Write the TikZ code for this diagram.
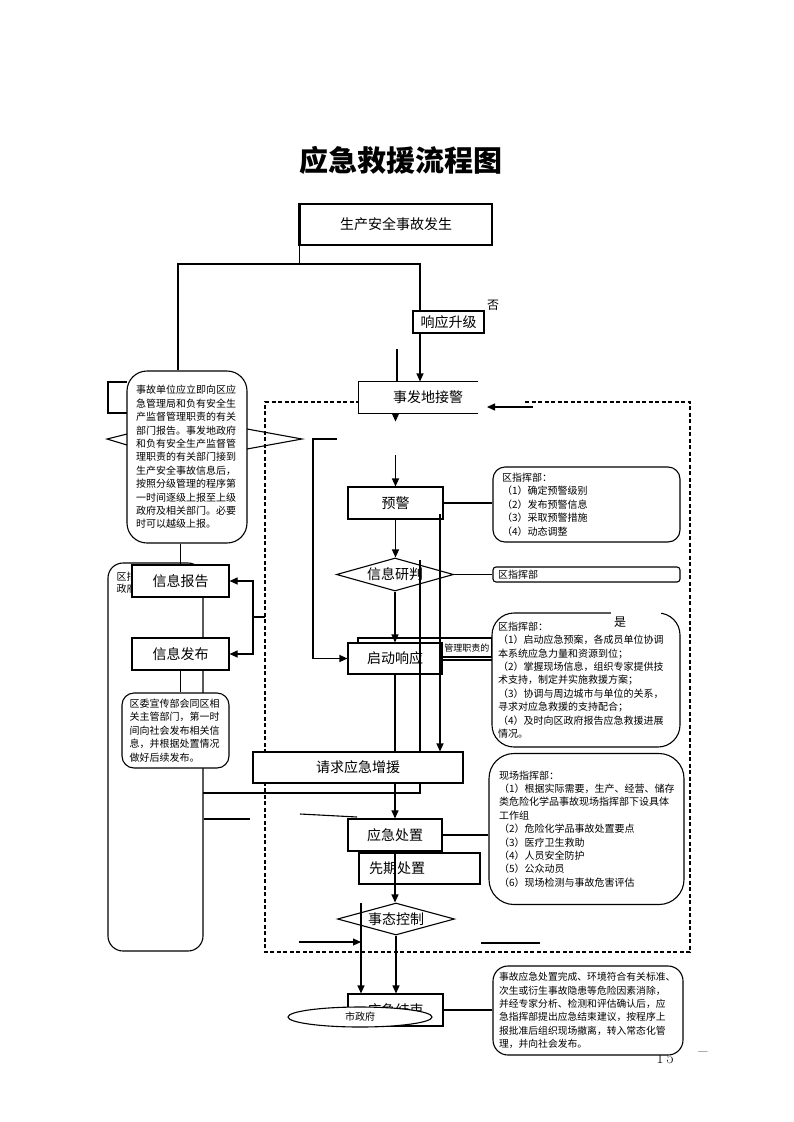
\documentclass[tikz,border=0pt]{standalone}
\usepackage{fontspec}
\newfontfamily\cjk{Noto Sans CJK SC}
\usetikzlibrary{arrows.meta,shapes.geometric}

\begin{document}
\begin{tikzpicture}[x=1pt, y=-1pt, line width=1.1pt,
    flowbox/.style={draw, fill=white, inner sep=0pt, font=\cjk\fontsize{14}{14}\selectfont},
    choice/.style={diamond, draw, fill=white, aspect=3.5, inner sep=0pt, font=\cjk\fontsize{14}{14}\selectfont},
    notebox/.style={draw, fill=white, rounded corners=#1, inner ysep=0pt, align=left, font=\cjk\fontsize{10}{13.4}\selectfont},
    notebox/.default=12pt,
    arrowline/.style={-{Triangle[length=8pt,width=7pt]}}]

  \useasboundingbox (0,0) rectangle (793,1122);

  \node[font=\cjk\bfseries\fontsize{29}{29}\selectfont] (title) at (401,160) {应急救援流程图};

  % dashed frame
  \draw[dash pattern=on 4pt off 2.5pt, line width=1.3pt] (525,402) -| (690,952) -| (265,402) -- (359,402);

  % left frame
  \node[draw, rounded corners=15pt, minimum width=95pt, minimum height=388pt] (side) at (155.5,757) {};
  \node[anchor=north west, inner sep=0pt, align=left, font=\cjk\fontsize{10}{12}\selectfont] (sidetext) at (116,572) {区指挥部\\政府};
  \draw (127,382) -- (108,382) -- (108,413) -- (127,413);

  \node[flowbox, minimum width=192pt, minimum height=41pt] (occur) at (396,224.5) {生产安全事故发生};
  \node[flowbox, minimum width=71pt, minimum height=22pt] (up) at (448.5,322) {响应升级};
  \node[font=\cjk\fontsize{12}{12}\selectfont] (no) at (493,305) {否};

  \node[fill=white, inner sep=0pt, minimum width=118pt, minimum height=31pt, font=\cjk\fontsize{14}{14}\selectfont] (alarm) at (418,397.5) {\hspace*{20pt}事发地接警};
  \draw (alarm.north east) -- (alarm.north west) -- (alarm.south west) -- (alarm.south east);

  \node[flowbox, minimum width=95pt, minimum height=32pt] (warn) at (395.5,503) {预警};
  \node[choice, minimum width=117pt, minimum height=33pt] (judge) at (395,574.5) {信息研判};

  \node[draw, fill=white, minimum width=134pt, minimum height=19pt, inner sep=0pt] (duty) at (425,647.5) {};
  \draw (442,660) -- (492,660);
  \node[anchor=east, inner sep=0pt, font=\cjk\fontsize{9}{9}\selectfont] (dutytext) at (490,648) {管理职责的};
  \node[flowbox, minimum width=94pt, minimum height=31pt] (start) at (395,658.5) {启动响应};

  \node[flowbox, minimum width=210pt, minimum height=31pt] (ask) at (358,767.5) {请求应急增援};
  \node[flowbox, minimum width=94pt, minimum height=32pt] (act) at (395,835) {应急处置};
  \node[flowbox, minimum width=121pt, minimum height=31pt] (first) at (419.5,868.5) {先期处置\hspace*{45pt}};
  \node[choice, minimum width=117pt, minimum height=32pt] (ctrl) at (396,919) {事态控制};
  \node[flowbox, minimum width=95pt, minimum height=32pt] (finish) at (395.5,1010) {应急结束};
  \node[ellipse, draw, fill=white, minimum width=144pt, minimum height=20pt, inner sep=0pt, font=\cjk\fontsize{10}{10}\selectfont] (city) at (360,1017) {市政府};

  % left column
  \node[flowbox, minimum width=97pt, minimum height=32pt] (report) at (180.5,581) {信息报告};
  \node[flowbox, minimum width=97pt, minimum height=32pt] (publish) at (180.5,654) {信息发布};
  \node[notebox, minimum width=107pt, minimum height=75pt, text width=92pt, inner xsep=7.5pt] (pubnote) at (175.5,730.5)
    {区委宣传部会同区相\\关主管部门，第一时\\间向社会发布相关信\\息，并根据处置情况\\做好后续发布。};
  \node[notebox=20pt, minimum width=120pt, minimum height=172pt, text width=102pt, inner xsep=9pt] (repnote) at (187,457)
    {事故单位应立即向区应\\急管理局和负有安全生\\产监督管理职责的有关\\部门报告。事发地政府\\和负有安全生产监督管\\理职责的有关部门接到\\生产安全事故信息后，\\按照分级管理的程序第\\一时间逐级上报至上级\\政府及相关部门。必要\\时可以越级上报。};
  \draw (127,434) -- (107,439) -- (127,445);
  \draw (247,429) -- (302,439) -- (247,449);

  % right notes
  \node[notebox, minimum width=187pt, minimum height=75pt, text width=169pt, inner xsep=9pt] (warnnote) at (586.5,504.5)
    {区指挥部：\\（1）确定预警级别\\（2）发布预警信息\\（3）采取预警措施\\（4）动态调整};
  \node[notebox=3pt, minimum width=187pt, minimum height=15pt, text width=177pt, inner xsep=5pt] (judgenote) at (586.5,574.5) {区指挥部};
  \node[notebox=22pt, minimum width=188pt, minimum height=134pt, text width=176pt, inner xsep=6pt] (startnote) at (586,680)
    {区指挥部：\\（1）启动应急预案，各成员单位协调\\本系统应急力量和资源到位；\\（2）掌握现场信息，组织专家提供技\\术支持，制定并实施救援方案；\\（3）协调与周边城市与单位的关系，\\寻求对应急救援的支持配合；\\（4）及时向区政府报告应急救援进展\\情况。};
  \node[fill=white, inner sep=0pt, minimum width=50pt, minimum height=14pt] (patch) at (636,614) {};
  \node[font=\cjk\fontsize{12}{12}\selectfont] (yes) at (620,622) {是};
  \node[notebox=25pt, minimum width=195pt, minimum height=151pt, text width=175pt, inner xsep=10pt] (fieldnote) at (586.5,829)
    {现场指挥部：\\（1）根据实际需要，生产、经营、储存\\类危险化学品事故现场指挥部下设具体\\工作组\\（2）危险化学品事故处置要点\\（3）医疗卫生救助\\（4）人员安全防护\\（5）公众动员\\（6）现场检测与事故危害评估};
  \node[font=\fontsize{16}{16}\selectfont] (page) at (665,1058) {1\,5};
  \node[font=\fontsize{20}{20}\selectfont] (pagedash) at (703,1055) {\textendash};
  \node[notebox=15pt, minimum width=190pt, minimum height=89pt, text width=178pt, inner xsep=6pt, font=\cjk\fontsize{9.8}{13.4}\selectfont] (endnote) at (588,1010.5)
    {事故应急处置完成、环境符合有关标准、\\次生或衍生事故隐患等危险因素消除，\\并经专家分析、检测和评估确认后，应\\急指挥部提出应急结束建议，按程序上\\报批准后组织现场撤离，转入常态化管\\理，并向社会发布。};

  % connectors
  \coordinate (lft) at (178,264);
  \coordinate (rgt) at (420,264);
  \draw[line width=2pt] (occur.north west) -- (occur.south west);
  \draw (occur.south west) -- (occur.south west |- lft);
  \draw (repnote.north -| lft) |- (rgt) -- (up.north -| rgt);
  \draw[arrowline] (up.south -| rgt) -- (alarm.north -| rgt);
  \coordinate (stub) at (397,349);
  \draw (stub) -- (stub |- alarm.north);
  \coordinate (tip) at (alarm.south -| warn.north);
  \draw[arrowline] (tip) -- ([yshift=-8pt]tip);
  \draw[arrowline] ([yshift=31pt]warn.north) -- (warn.north);
  \coordinate (back) at (533,407);
  \draw[arrowline] (back) -- ++(-46,0);

  \draw[arrowline] (warn.south) -- (warn.south |- judge.north);
  \draw[arrowline] (judge.south) -- (start.north);
  \draw (warn.east) -- (warn.east -| warnnote.west);
  \draw (judge.east) -- (judge.east -| judgenote.west);
  \coordinate (loop) at (337,439);
  \draw[arrowline] (loop) -- ++(-24,0) |- (start.west);
  \coordinate (rone) at (440,514);
  \draw[arrowline] (rone) -- (rone |- ask.north);
  \coordinate (rtwo) at (420,560);
  \draw (rtwo) -- (rtwo |- ask.north);
  \coordinate (low) at (203,793);
  \draw (rtwo |- ask.south) |- (low);
  \draw (start.south) -- (start.south |- ask.north);
  \draw[arrowline] (act.north |- ask.south) -- (act.north);
  \draw (act.east) -- (act.east -| fieldnote.west);
  \draw[arrowline] (act.south) -- (act.south |- ctrl.north);
  \draw[arrowline] (ctrl.south) -- (ctrl.south |- finish.north);
  \coordinate (cone) at (361,903);
  \draw[arrowline] (cone) -- (cone |- finish.north);
  \coordinate (ctwo) at (299,942);
  \draw[arrowline] (ctwo) -- (ctwo -| cone);
  \draw (481,943) -- (540,943);
  \draw (finish.east) -- (finish.east -| endnote.west);

  \draw (repnote.south -| report.north) -- (report.north);
  \draw (publish.south) -- (publish.south |- pubnote.north);
  \coordinate (brk) at (253,617);
  \draw[arrowline] (brk) |- (report.east);
  \draw[arrowline] (brk) |- (publish.east);
  \draw (brk) -- ++(12,0);
  \coordinate (ltwo) at (250,819);
  \draw (ltwo) -- (ltwo -| side.east);
  \draw (300,814) -- (357,817);

\end{tikzpicture}
\end{document}
